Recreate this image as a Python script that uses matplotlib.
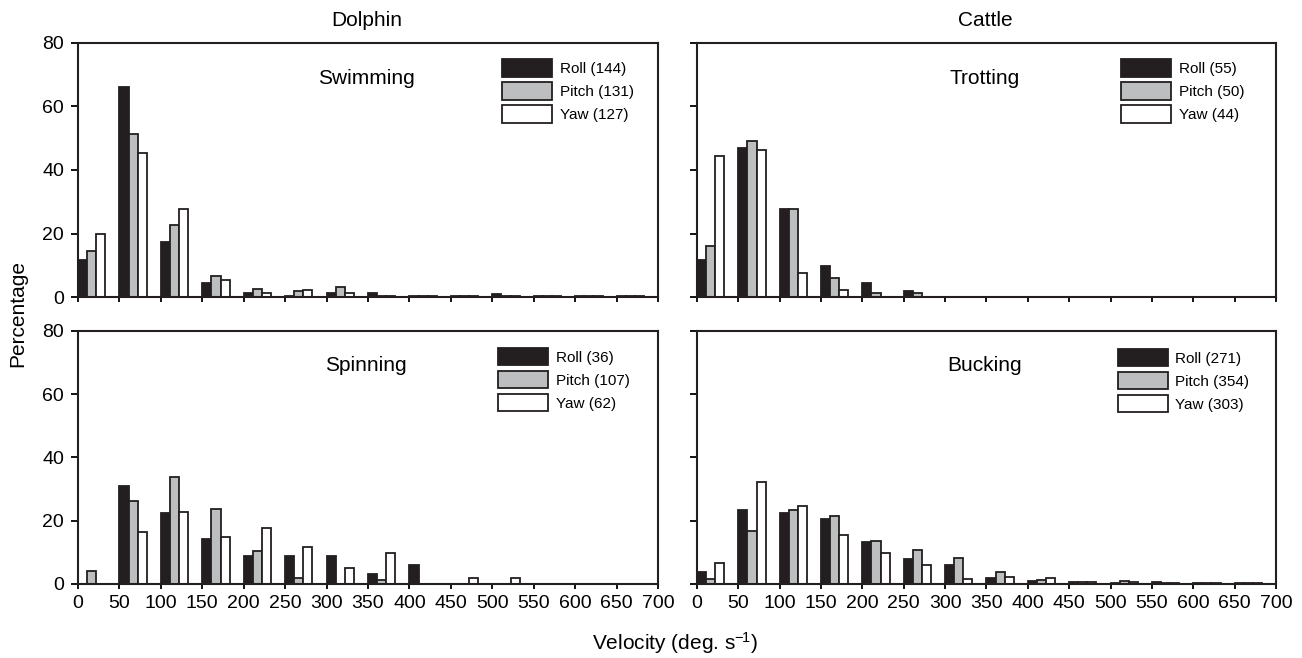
import matplotlib
matplotlib.use("Agg")
import matplotlib.pyplot as plt
import numpy as np

plt.rcParams['font.family'] = ['Liberation Sans', 'DejaVu Sans']
plt.rcParams['mathtext.fontset'] = 'custom'
plt.rcParams['mathtext.rm'] = 'Liberation Sans'
plt.rcParams['mathtext.it'] = 'Liberation Sans:italic'

# bin starts (deg/s), 50-wide bins
bins = np.arange(0, 700, 50)

# Dolphin - swimming
swim_roll = [11.6, 66.0, 17.2, 4.5, 1.3, 0.3, 1.3, 1.4, 0.3, 0.3, 1.0, 0.3, 0.2, 0.2]
swim_pitch = [14.4, 51.4, 22.8, 6.5, 2.6, 1.9, 3.2, 0.4, 0.3, 0.3, 0.4, 0.2, 0.2, 0.2]
swim_yaw = [20.0, 45.3, 27.7, 5.5, 1.4, 2.3, 1.4, 0.3, 0.3, 0.3, 0.3, 0.2, 0.2, 0.2]

# Cattle - trotting
trot_roll = [11.6, 46.8, 27.7, 9.8, 4.5, 1.8, 0, 0, 0, 0, 0, 0, 0, 0]
trot_pitch = [16.1, 49.2, 27.6, 6.0, 1.4, 1.4, 0, 0, 0, 0, 0, 0, 0, 0]
trot_yaw = [44.4, 46.3, 7.5, 2.1, 0, 0, 0, 0, 0, 0, 0, 0, 0, 0]

# Dolphin - spinning
spin_roll = [0, 30.9, 22.6, 14.1, 8.7, 8.7, 8.7, 3.1, 5.9, 0, 0, 0, 0, 0]
spin_pitch = [4.0, 26.2, 33.9, 23.6, 10.5, 1.9, 0, 1.3, 0, 0, 0, 0, 0, 0]
spin_yaw = [0, 16.4, 22.9, 14.7, 17.8, 11.6, 5.1, 9.9, 0, 2.0, 2.0, 0, 0, 0]

# Cattle - bucking
buck_roll = [3.9, 23.5, 22.6, 20.5, 13.3, 7.8, 6.0, 2.0, 0.8, 0.7, 0.3, 0.5, 0.2, 0.2]
buck_pitch = [1.5, 16.9, 23.3, 21.5, 13.7, 10.8, 8.2, 3.8, 1.3, 0.5, 0.9, 0.2, 0.2, 0.2]
buck_yaw = [6.6, 32.4, 24.5, 15.6, 9.7, 5.9, 1.5, 2.3, 1.9, 0.5, 0.6, 0.2, 0.2, 0.2]

panels = [
    ("Swimming", [swim_roll, swim_pitch, swim_yaw], [144, 131, 127]),
    ("Trotting", [trot_roll, trot_pitch, trot_yaw], [55, 50, 44]),
    ("Spinning", [spin_roll, spin_pitch, spin_yaw], [36, 107, 62]),
    ("Bucking", [buck_roll, buck_pitch, buck_yaw], [271, 354, 303]),
]
names = ["Roll", "Pitch", "Yaw"]
colors = ["#231f20", "#bcbec0", "#ffffff"]
edge = "#231f20"

fig = plt.figure(figsize=(13.02, 6.58), dpi=100)

positions = [
    [0.0599, 0.5486, 0.4455, 0.3861],
    [0.5353, 0.5486, 0.4447, 0.3861],
    [0.0599, 0.1125, 0.4455, 0.3845],
    [0.5353, 0.1125, 0.4447, 0.3845],
]
leg_pos = [(0.731, 0.935), (0.733, 0.935), (0.724, 0.934), (0.727, 0.93)]

bw = 11
for i, (title, series, counts) in enumerate(panels):
    ax = fig.add_axes(positions[i])
    for j in range(3):
        ax.bar(bins + j * bw, series[j], width=bw, align='edge', color=colors[j],
               edgecolor=edge, linewidth=1.3, label=f"{names[j]} ({counts[j]})")
    ax.set_xlim(0, 700)
    ax.set_ylim(0, 80)
    ax.set_xticks(np.arange(0, 701, 50))
    ax.set_yticks(np.arange(0, 81, 20))
    ax.tick_params(axis='y', direction='out', length=5, width=1.3, pad=5, labelsize=14)
    ax.tick_params(axis='x', direction='out', length=3.6, width=1.3, pad=4, labelsize=14)
    for s in ax.spines.values():
        s.set_linewidth(1.5)
        s.set_color(edge)
    if i % 2 == 1:
        ax.set_yticklabels([])
    if i < 2:
        ax.set_xticklabels([])
    ax.text(0.497, 0.84, title, transform=ax.transAxes, ha='center', va='baseline', fontsize=15)
    ax.legend(loc='upper left', bbox_to_anchor=leg_pos[i], frameon=False, fontsize=11,
              handlelength=3.27, handleheight=1.4, labelspacing=0.35, handletextpad=0.5,
              borderpad=0, borderaxespad=0)

fig.text(0.282, 0.960, "Dolphin", ha='center', va='baseline', fontsize=15)
fig.text(0.757, 0.960, "Cattle", ha='center', va='baseline', fontsize=15)
fig.text(0.0138, 0.524, "Percentage", ha='center', va='center', rotation=90, fontsize=15)
fig.text(0.518, 0.012, "Velocity (deg. s$^{\u2212\\!1}$)", ha='center', va='baseline', fontsize=15)

fig.savefig("out.png", dpi=100)
